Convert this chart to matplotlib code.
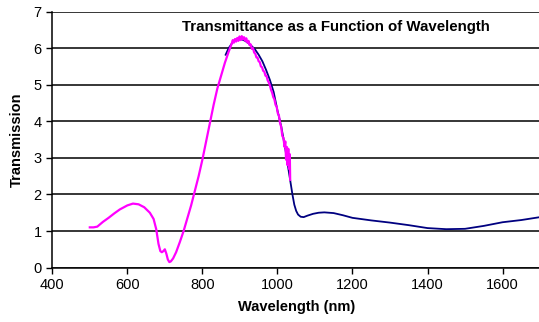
import matplotlib
matplotlib.use("Agg")
import matplotlib.pyplot as plt

plt.rcParams['font.family'] = ['Liberation Sans', 'DejaVu Sans']

# measured curve (pink)
pink_wl = [500, 510, 520, 535, 550, 565, 580, 600, 615, 630, 645, 660, 670, 677, 683, 688, 692, 696,
           700, 704, 708, 712, 716, 722, 730, 740, 750, 760, 770, 780, 790, 800, 810, 820, 830, 840,
           850, 860, 870, 878, 881, 884, 887, 890, 893, 896, 899, 902, 905, 908, 911, 914, 917, 920,
           923, 926, 929, 932, 935, 938, 941, 944, 947, 950, 953, 956, 959, 962, 965, 968, 971, 974,
           977, 980, 983, 986, 989, 992, 995, 998, 1001, 1004, 1007, 1010, 1013, 1016, 1019, 1021,
           1023, 1025, 1027, 1029, 1031, 1033, 1034]
pink_t = [1.10, 1.10, 1.12, 1.25, 1.36, 1.48, 1.59, 1.70, 1.75, 1.73, 1.65, 1.50, 1.33, 1.05, 0.65, 0.45, 0.42, 0.45,
          0.50, 0.38, 0.22, 0.15, 0.17, 0.25, 0.42, 0.70, 1.00, 1.35, 1.70, 2.10, 2.50, 2.95, 3.45, 3.95, 4.45, 4.90,
          5.25, 5.60, 5.90, 6.12, 6.22, 6.15, 6.25, 6.18, 6.28, 6.20, 6.32, 6.22, 6.33, 6.24, 6.30, 6.20, 6.27, 6.15,
          6.20, 6.08, 6.10, 5.98, 6.00, 5.88, 5.85, 5.75, 5.74, 5.64, 5.62, 5.50, 5.48, 5.38, 5.36, 5.25, 5.24, 5.12,
          5.06, 4.98, 4.86, 4.78, 4.66, 4.60, 4.45, 4.40, 4.22, 4.16, 3.95, 3.85, 3.60, 3.55, 3.30, 3.45,
          2.95, 3.30, 2.80, 3.25, 2.70, 3.10, 2.40]

# model curve (navy)
blue_wl = [862, 870, 880, 890, 900, 910, 920, 930, 940, 950, 960, 970, 980, 990, 1000, 1010, 1020, 1030,
           1040, 1045, 1050, 1055, 1062, 1070, 1080, 1095, 1110, 1125, 1150, 1175, 1200, 1250, 1300,
           1350, 1400, 1450, 1500, 1550, 1600, 1650, 1700]
blue_t = [5.82, 6.00, 6.15, 6.22, 6.25, 6.22, 6.16, 6.07, 5.97, 5.82, 5.64, 5.40, 5.13, 4.80, 4.30, 3.87, 3.31, 2.65,
          2.00, 1.72, 1.55, 1.45, 1.39, 1.38, 1.42, 1.47, 1.50, 1.51, 1.49, 1.43, 1.36, 1.29, 1.23,
          1.16, 1.08, 1.05, 1.06, 1.14, 1.24, 1.30, 1.38]

xticks = [400, 600, 800, 1000, 1200, 1400, 1600]
yticks = [0, 1, 2, 3, 4, 5, 6, 7]

fig = plt.figure(figsize=(5.39, 3.22), dpi=100)
ax = fig.add_axes([0.097, 0.169, 0.905, 0.795])

ax.plot(blue_wl, blue_t, color='#000080', linewidth=1.3)
ax.plot(pink_wl, pink_t, color='#ff00ff', linewidth=1.6)

ax.set_xlim(400, 1700)
ax.set_ylim(0, 7)
ax.set_xticks(xticks)
ax.set_yticks(yticks)
ax.yaxis.grid(True, color='black', linewidth=1.1)
ax.set_axisbelow(True)
for s in ['top', 'right']:
    ax.spines[s].set_visible(False)
for s in ['left', 'bottom']:
    ax.spines[s].set_linewidth(1.1)
ax.tick_params(direction='out', length=4, width=1, labelsize=10.5, colors='black')

ax.set_xlabel('Wavelength (nm)', fontsize=10.5, fontweight='bold', labelpad=6)
ax.set_ylabel('Transmission', fontsize=10.5, fontweight='bold', labelpad=7)
ax.text(0.581, 0.94, 'Transmittance as a Function of Wavelength', transform=ax.transAxes,
        ha='center', va='center', fontsize=10.8, fontweight='bold')

fig.savefig('out.png', dpi=100)
